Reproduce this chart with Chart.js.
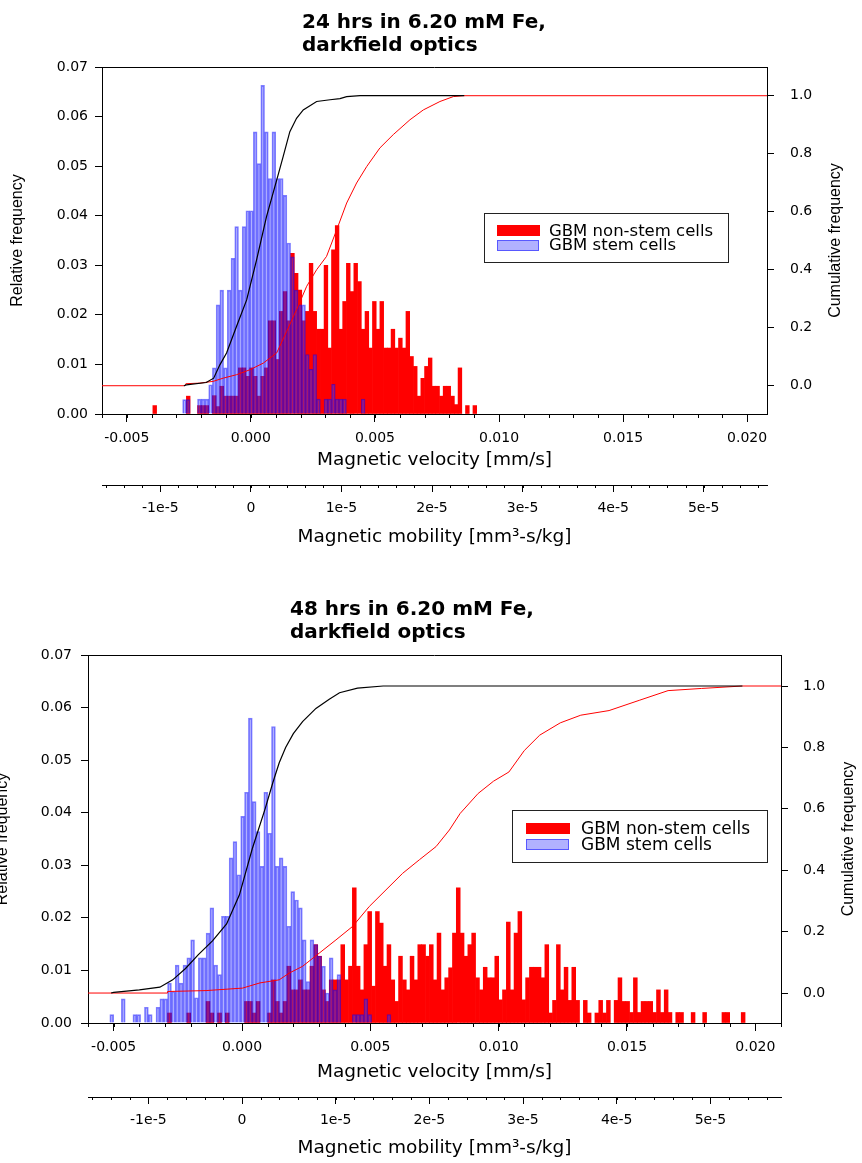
<!DOCTYPE html>
<html>
<head>
<meta charset="utf-8">
<title>Magnetic velocity histograms, 24 and 48 hrs</title>
<script src="https://cdn.jsdelivr.net/npm/chart.js@4.4.1/dist/chart.umd.min.js"></script>
<style>
  body { margin: 0; background: #fff; }
  #page { position: relative; width: 862px; height: 1163px; overflow: hidden; }
  canvas { position: absolute; left: 0; }
  .title { position: absolute; font: bold 20px "DejaVu Sans"; line-height: 23px; white-space: nowrap; color: #000; }
  .legend { position: absolute; border: 1px solid #222; box-sizing: border-box; }
  .swatch { position: absolute; box-sizing: border-box; }
  .ltext { position: absolute; font-family: "DejaVu Sans"; line-height: 16px; white-space: nowrap; color: #000; }
</style>
</head>
<body>
<div id="page">
  <canvas id="top" width="862" height="560" style="top:0px"></canvas>
  <canvas id="bottom" width="862" height="603" style="top:560px"></canvas>
  <div class="title" style="left:302px; top:10px">24 hrs in 6.20 mM Fe,<br>darkfield optics</div>
  <div class="title" style="left:290px; top:597px">48 hrs in 6.20 mM Fe,<br>darkfield optics</div>
</div>
<script>
// histogram bins are 0.00015 mm/s wide; values are relative frequency per bin
const binWidth = 0.00015;

// ---- 24 hrs ----
const topBinStart = -0.003875; // centre of first bin
const topNonStem = [
  0.0017, 0, 0, 0, 0, 0, 0, 0, 0, 0.0036,
  0, 0, 0.0017, 0.0017, 0.0017, 0, 0.0037, 0.0015, 0.0056, 0.0036,
  0.0036, 0.0036, 0.0036, 0.0093, 0.0093, 0.0076, 0.0093, 0.0076, 0.0036, 0.0076,
  0.0093, 0.0188, 0.0188, 0.011, 0.0207, 0.0247, 0.0188, 0.0324, 0.0284, 0.025,
  0.0188, 0.0207, 0.0304, 0.0207, 0.0171, 0.0171, 0.030, 0.0133, 0.0331, 0.038,
  0.0171, 0.0227, 0.0304, 0.0247, 0.0304, 0.0267, 0.0171, 0.0207, 0.0133, 0.0227,
  0.0171, 0.0227, 0.0133, 0.0133, 0.0171, 0.0133, 0.0153, 0.0133, 0.0207, 0.0116,
  0.0096, 0.0036, 0.0072, 0.0096, 0.0113, 0.0056, 0.0056, 0.0036, 0.0056, 0.0056,
  0.0036, 0.0019, 0.0093, 0, 0.0017, 0, 0.0017
];
const topStem = [
  0, 0, 0, 0, 0, 0, 0, 0, 0.0029, 0.0029,
  0, 0, 0.003, 0.003, 0.003, 0.0059, 0.0093, 0.022, 0.025, 0.0093,
  0.025, 0.0314, 0.0378, 0.025, 0.0378, 0.041, 0.041, 0.0569, 0.0505, 0.0663,
  0.0569, 0.0475, 0.0569, 0.0475, 0.0475, 0.0441, 0.0345, 0.0317, 0.025, 0.022,
  0.022, 0.012, 0.009, 0.012, 0.003, 0, 0.003, 0.003, 0.006, 0.003,
  0.003, 0.003, 0, 0, 0, 0, 0.003
];
const topStemCumX = [-0.0027, -0.0026, -0.0018, -0.0015, -0.00125, -0.00098, -0.00058, -0.00017, 0.00023, 0.00063,
  0.00104, 0.0013, 0.00157, 0.00184, 0.00211, 0.00265, 0.00319, 0.00359, 0.00386, 0.0044, 0.0086];
const topStemCumY = [0, 0.003, 0.011, 0.026, 0.072, 0.113, 0.204, 0.296, 0.434, 0.583,
  0.709, 0.79, 0.876, 0.922, 0.951, 0.98, 0.986, 0.99, 0.997, 1, 1];
const topNonCumX = [-0.006, -0.00266, -0.00262, -0.00206, -0.00152, -0.00112, -0.00058, -0.00004, 0.0005, 0.00104,
  0.00144, 0.00184, 0.00225, 0.00265, 0.00305, 0.00346, 0.00386, 0.00426, 0.00467, 0.0052,
  0.00574, 0.00641, 0.00695, 0.00762, 0.00816, 0.00856, 0.0208];
const topNonCumY = [0, 0, 0.007, 0.009, 0.015, 0.026, 0.038, 0.055, 0.078, 0.113,
  0.187, 0.262, 0.343, 0.40, 0.446, 0.538, 0.63, 0.699, 0.756, 0.82,
  0.866, 0.917, 0.951, 0.98, 0.997, 1, 1];

// ---- 48 hrs ----
const botBinStart = -0.005075;
const botNonStem = [
  0, 0, 0, 0, 0, 0, 0, 0, 0, 0,
  0, 0, 0, 0, 0, 0.0019, 0, 0, 0, 0,
  0.0019, 0, 0, 0, 0, 0.0041, 0.0019, 0, 0.0019, 0,
  0.0019, 0, 0, 0, 0, 0.0041, 0.0041, 0.0019, 0.0041, 0,
  0, 0.0019, 0.0082, 0.0041, 0.0019, 0.0041, 0.0108, 0.0063, 0.0063, 0.0082,
  0.0063, 0.0063, 0.0108, 0.0149, 0.0127, 0.0063, 0.0041, 0.0082, 0.0082, 0.0082,
  0.0149, 0.0082, 0.0108, 0.0257, 0.0108, 0.0063, 0.0149, 0.0212, 0.007, 0.0212,
  0.019, 0.0108, 0.0149, 0.0082, 0.0041, 0.0127, 0.0082, 0.0063, 0.0127, 0.0082,
  0.0149, 0.0149, 0.0127, 0.0149, 0.0082, 0.0171, 0.0063, 0.0086, 0.0105, 0.0171,
  0.0257, 0.0171, 0.0127, 0.0149, 0.0171, 0.0086, 0.0063, 0.0106, 0.0086, 0.0086,
  0.0127, 0.0044, 0.0063, 0.0192, 0.0063, 0.0171, 0.0212, 0.0044, 0.0086, 0.0106,
  0.0106, 0.0106, 0.0086, 0.0149, 0.0019, 0.0043, 0.0149, 0.0063, 0.0106, 0.0043,
  0.0106, 0.0043, 0, 0.0043, 0.0019, 0, 0.0019, 0.0043, 0.0019, 0.0043,
  0, 0.0043, 0.0086, 0.0041, 0.0041, 0.002, 0.0086, 0.002, 0.0041, 0.0041,
  0.0041, 0.002, 0.0063, 0.002, 0.0063, 0.002, 0, 0.002, 0.002, 0,
  0, 0.002, 0, 0, 0.002, 0, 0, 0, 0, 0.002,
  0.002, 0, 0, 0, 0.002
];
const botStem = [
  0.0016, 0, 0, 0.0046, 0, 0, 0.0016, 0.0016, 0, 0.003,
  0.0016, 0, 0.003, 0.0046, 0.0046, 0.0076, 0.006, 0.011, 0.0076, 0.011,
  0.0124, 0.0158, 0.0048, 0.0124, 0.0124, 0.0171, 0.0219, 0.011, 0.0092, 0.0203,
  0.0203, 0.0314, 0.0345, 0.0282, 0.0393, 0.0439, 0.058, 0.0421, 0.0364, 0.0298,
  0.0439, 0.0361, 0.0564, 0.0298, 0.0314, 0.0298, 0.0184, 0.025, 0.0234, 0.0219,
  0.0158, 0.0079, 0.0158, 0.0149, 0.0127, 0.0108, 0.0057, 0.0124, 0.0063, 0.0092,
  0, 0, 0, 0.0016, 0.0016, 0.0016, 0.0046, 0.0016, 0, 0,
  0, 0, 0.0016
];
const botStemCumX = [-0.0051, -0.005, -0.004, -0.0032, -0.0027, -0.0022, -0.0017, -0.00115, -0.0006, -0.0001,
  0.0004, 0.0009, 0.0012, 0.00145, 0.0017, 0.002, 0.00236, 0.00288, 0.0034, 0.0038, 0.0045, 0.0055, 0.0195];
const botStemCumY = [0, 0.002, 0.01, 0.019, 0.043, 0.08, 0.125, 0.17, 0.225, 0.32,
  0.47, 0.6, 0.685, 0.75, 0.8, 0.845, 0.884, 0.927, 0.957, 0.978, 0.993, 1, 1];
const botNonCumX = [-0.006, -0.0029, -0.0029, -0.0014, 0.00002, 0.0007, 0.00145, 0.00184, 0.00236, 0.00301,
  0.00366, 0.00431, 0.00496, 0.00561, 0.00626, 0.00691, 0.00756, 0.00808, 0.0085, 0.0092,
  0.0098, 0.0104, 0.0110, 0.0116, 0.0124, 0.0132, 0.0143, 0.0155, 0.0166, 0.0179,
  0.0195, 0.021];
const botNonCumY = [0, 0, 0.005, 0.008, 0.016, 0.033, 0.043, 0.065, 0.087, 0.13,
  0.173, 0.217, 0.282, 0.336, 0.39, 0.434, 0.477, 0.531, 0.585, 0.65,
  0.69, 0.72, 0.79, 0.84, 0.88, 0.905, 0.92, 0.954, 0.985, 0.992,
  1, 1];

// mobility axis = velocity axis * this factor
const mobilityPerVelocity = 0.00274;

const RED = '#ff0000';
const BLUE_FILL = 'rgba(60,60,255,0.40)';
const BLUE_EDGE = 'rgba(0,0,255,0.50)';
const NONSTEM_LABEL = 'GBM non-stem cells';
const STEM_LABEL = 'GBM stem cells';

Chart.defaults.font.family = '"DejaVu Sans", sans-serif';
Chart.defaults.color = '#000';

function bins(start, heights) {
  return heights
    .map((h, i) => ({ x: start + i * binWidth, y: h }))
    .filter(p => p.y > 0);
}
function points(xs, ys) {
  return xs.map((x, i) => ({ x: x, y: ys[i] }));
}

// top edge of the frame, minor ticks, right title (reads bottom to top)
const frameAndTicks = {
  id: 'frameAndTicks',
  afterDraw(chart, args, opts) {
    const { ctx, chartArea: a } = chart;
    ctx.save();
    ctx.strokeStyle = '#000';
    ctx.lineWidth = 1;
    ctx.beginPath();
    const ty = Math.round(a.top) + 0.5;
    ctx.moveTo(a.left, ty);
    ctx.lineTo(a.right, ty);
    for (const id of ['x', 'x2']) {
      const s = chart.scales[id];
      const m = opts.minor[id];
      const n0 = Math.ceil(s.min / m.step), n1 = Math.floor(s.max / m.step);
      for (let n = n0; n <= n1; n++) {
        const px = Math.round(s.getPixelForValue(n * m.step)) + 0.5;
        ctx.moveTo(px, s.top);
        ctx.lineTo(px, s.top + m.len);
      }
    }
    ctx.stroke();
    ctx.fillStyle = '#000';
    ctx.font = '16px "Liberation Sans"';
    ctx.textAlign = 'center';
    ctx.textBaseline = 'middle';
    ctx.translate(opts.rightTitleX, (a.top + a.bottom) / 2);
    ctx.rotate(-Math.PI / 2);
    ctx.fillText('Cumulative frequency', 0, 0);
    ctx.restore();
  }
};

function panel(canvasId, p) {
  const tickFont = { size: 14 };
  const titleFont = { size: 18.5 };
  const axisBorder = { color: '#000', width: 1 };
  return new Chart(document.getElementById(canvasId), {
    type: 'bar',
    data: {
      datasets: [
        { type: 'line', data: points(p.stemX, p.stemY), yAxisID: 'y2', borderColor: '#000',
          borderWidth: 1.2, pointRadius: 0, order: 0 },
        { type: 'line', data: points(p.nonX, p.nonY), yAxisID: 'y2', borderColor: RED,
          borderWidth: 1, pointRadius: 0, order: 0 },
        { label: STEM_LABEL, data: bins(p.start, p.stem), yAxisID: 'y',
          backgroundColor: BLUE_FILL, borderColor: BLUE_EDGE, borderWidth: 1,
          grouped: false, barPercentage: 1, categoryPercentage: 1, order: 1 },
        { label: NONSTEM_LABEL, data: bins(p.start, p.non), yAxisID: 'y',
          backgroundColor: RED, borderWidth: 0,
          grouped: false, barPercentage: 1, categoryPercentage: 1, order: 2 }
      ]
    },
    options: {
      responsive: false,
      animation: false,
      events: [],
      layout: { padding: p.pad },
      plugins: {
        legend: { display: false },
        tooltip: { enabled: false },
        frameAndTicks: {
          minor: { x: { step: 0.001, len: 4 }, x2: { step: 2e-6, len: 3 } },
          rightTitleX: p.rightTitleX
        }
      },
      scales: {
        x: {
          type: 'linear', position: 'bottom', weight: 0,
          min: -0.006, max: p.xMax, offset: false,
          grid: { drawOnChartArea: false, offset: false, tickLength: 8, tickColor: '#000' },
          border: axisBorder,
          ticks: { stepSize: 0.005, includeBounds: false, padding: 8, maxRotation: 0, autoSkip: false,
                   font: tickFont, callback: v => v.toFixed(3) },
          title: { display: true, text: 'Magnetic velocity [mm/s]', font: titleFont,
                   padding: { top: 0, bottom: p.xTitlePad } },
          afterFit: s => { s.height = p.xH; }
        },
        x2: {
          type: 'linear', position: 'bottom', weight: 1,
          min: -0.006 * mobilityPerVelocity, max: p.xMax * mobilityPerVelocity, offset: false,
          grid: { drawOnChartArea: false, offset: false, tickLength: 7, tickColor: '#000' },
          border: axisBorder,
          ticks: { stepSize: 1e-5, includeBounds: false, padding: 8, maxRotation: 0, autoSkip: false,
                   font: tickFont,
                   callback: v => { const n = Math.round(v * 1e5); return n === 0 ? '0' : n + 'e-5'; } },
          title: { display: true, text: 'Magnetic mobility [mm\u00B3-s/kg]', font: titleFont,
                   padding: { top: 0, bottom: p.x2TitlePad } },
          afterFit: s => { s.height = p.x2H; }
        },
        y: {
          position: 'left', min: 0, max: 0.07,
          grid: { drawOnChartArea: false, tickLength: 7, tickColor: '#000' },
          border: axisBorder,
          ticks: { stepSize: 0.01, padding: p.yTickPad, font: tickFont, callback: v => v.toFixed(2) },
          title: { display: true, text: 'Relative frequency',
                   font: { family: '"Liberation Sans"', size: 16 }, padding: { top: p.yTitlePad, bottom: 0 } },
          afterFit: s => { s.width = p.yW; }
        },
        y2: {
          position: 'right', min: p.cumMin, max: p.cumMax,
          grid: { drawOnChartArea: false, tickLength: 7, tickColor: '#000' },
          border: axisBorder,
          ticks: { stepSize: 0.2, includeBounds: false, padding: p.y2TickPad, font: tickFont,
                   callback: v => v.toFixed(1) },
          afterFit: s => { s.width = p.y2W; }
        }
      }
    },
    plugins: [frameAndTicks]
  });
}

panel('top', {
  start: topBinStart, non: topNonStem, stem: topStem,
  stemX: topStemCumX, stemY: topStemCumY, nonX: topNonCumX, nonY: topNonCumY,
  xMax: 0.0208, cumMin: -0.0975, cumMax: 1.099,
  pad: { top: 67, left: 0, right: 0, bottom: 11 },
  yW: 102, y2W: 95, xH: 71, x2H: 64,
  yTickPad: 7, y2TickPad: 16, yTitlePad: 8.4, xTitlePad: 13.9, x2TitlePad: 1.2,
  rightTitleX: 835.5
});

panel('bottom', {
  start: botBinStart, non: botNonStem, stem: botStem,
  stemX: botStemCumX, stemY: botStemCumY, nonX: botNonCumX, nonY: botNonCumY,
  xMax: 0.0210, cumMin: -0.0976, cumMax: 1.101,
  pad: { top: 95, left: 0, right: 0, bottom: 5 },
  yW: 88, y2W: 81, xH: 74, x2H: 61,
  yTickPad: 9, y2TickPad: 15, yTitlePad: -6.6, xTitlePad: 13.9, x2TitlePad: -1,
  rightTitleX: 849
});

// legends drawn as boxes over the plot area, same colours as the bars
function legend(box, redSw, blueSw, textLeft, textTops, fontSize) {
  const page = document.getElementById('page');
  const el = (cls, css) => {
    const d = document.createElement('div');
    d.className = cls;
    Object.assign(d.style, css);
    page.appendChild(d);
    return d;
  };
  el('legend', { left: box[0] + 'px', top: box[1] + 'px', width: box[2] + 'px', height: box[3] + 'px' });
  el('swatch', { left: redSw[0] + 'px', top: redSw[1] + 'px', width: redSw[2] + 'px', height: redSw[3] + 'px',
                 background: RED });
  el('swatch', { left: blueSw[0] + 'px', top: blueSw[1] + 'px', width: blueSw[2] + 'px', height: blueSw[3] + 'px',
                 background: BLUE_FILL, border: '1px solid ' + BLUE_EDGE });
  [NONSTEM_LABEL, STEM_LABEL].forEach((t, i) => {
    const d = el('ltext', { left: textLeft + 'px', top: textTops[i] + 'px', fontSize: fontSize + 'px' });
    d.textContent = t;
  });
}
legend([484, 213, 245, 50], [497, 225, 43, 11], [497, 240, 42, 11], 549, [222.7, 237], 16.5);
legend([512, 810, 256, 53], [526, 823, 44, 11], [526, 839, 43, 11], 581, [820, 836], 17);
</script>
</body>
</html>
